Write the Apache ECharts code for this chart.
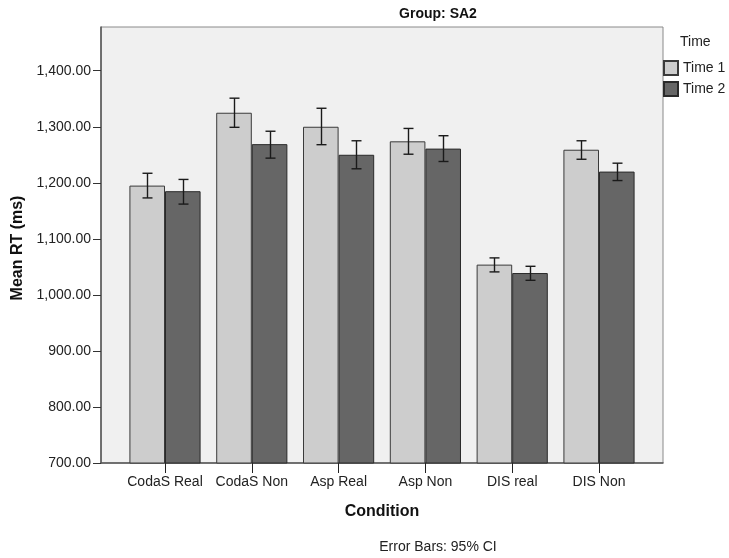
<!DOCTYPE html>
<html>
<head>
<meta charset="utf-8">
<title>Mean RT by Condition — Group: SA2</title>
<script src="https://cdn.jsdelivr.net/npm/echarts@6/dist/echarts.min.js"></script>
<style>
  html, body { margin: 0; padding: 0; background: #ffffff; }
  #chart { width: 729px; height: 558px; }
</style>
</head>
<body>
<div id="chart"></div>
<script>
// Conditions on the x axis
const categories = ['CodaS Real', 'CodaS Non', 'Asp Real', 'Asp Non', 'DIS real', 'DIS Non'];

// Mean RT (ms) per condition for each session
const time1Mean = [1195, 1325, 1300, 1274, 1054, 1259];
const time2Mean = [1185, 1269, 1250, 1261, 1039, 1220];

// 95% confidence interval bounds
const time1Low  = [1173, 1299, 1268, 1251, 1041, 1242];
const time1High = [1217, 1351, 1333, 1297, 1066, 1275];
const time2Low  = [1162, 1244, 1225, 1238, 1026, 1204];
const time2High = [1206, 1292, 1275, 1284, 1051, 1235];

// Y axis tick values
const yTicks = [700, 800, 900, 1000, 1100, 1200, 1300, 1400];

const FONT = 'Liberation Sans, Arial, sans-serif';
const Y_MIN = 700, Y_MAX = 1478;
const CAT_GAP = 0.18;

function fmt(v) {
  const parts = v.toFixed(2).split('.');
  parts[0] = parts[0].replace(/\B(?=(\d{3})+(?!\d))/g, ',');
  return parts.join('.');
}

// Error bar renderer; side = -1 (left bar) or +1 (right bar)
function errorBar(side) {
  return function (params, api) {
    const idx = api.value(0);
    const lo = api.coord([idx, api.value(1)]);
    const hi = api.coord([idx, api.value(2)]);
    const band = api.size([1, 0])[0];
    const dx = side * band * (1 - CAT_GAP) / 4;
    const x = Math.round(lo[0] + dx) + 0.5;
    const cap = 5;
    const style = { stroke: '#1a1a1a', lineWidth: 1.4 };
    return {
      type: 'group',
      children: [
        { type: 'line', shape: { x1: x, y1: hi[1], x2: x, y2: lo[1] }, style: style },
        { type: 'line', shape: { x1: x - cap, y1: hi[1], x2: x + cap, y2: hi[1] }, style: style },
        { type: 'line', shape: { x1: x - cap, y1: lo[1], x2: x + cap, y2: lo[1] }, style: style }
      ]
    };
  };
}

const chart = echarts.init(document.getElementById('chart'), null, { renderer: 'canvas' });

chart.setOption({
  animation: false,
  backgroundColor: '#ffffff',
  textStyle: { fontFamily: FONT },
  grid: [
    // plot frame
    { left: 101, right: 66, top: 27, bottom: 95, show: true,
      backgroundColor: '#f0f0f0', borderColor: '#8a8a8a', borderWidth: 1 },
    // bar region, inset from the frame
    { left: 121.6, right: 86.6, top: 27, bottom: 95 }
  ],
  xAxis: [
    { gridIndex: 0, type: 'value', min: 0, max: 1,
      axisLine: { show: true, lineStyle: { color: '#555', width: 1.5 } },
      axisTick: { show: false }, axisLabel: { show: false }, splitLine: { show: false } },
    { gridIndex: 1, type: 'category', data: categories,
      axisLine: { show: false },
      axisTick: { show: true, alignWithLabel: true, interval: 0, length: 10,
                  lineStyle: { color: '#222', width: 1 } },
      axisLabel: { interval: 0, color: '#222', fontSize: 14, fontFamily: FONT, margin: 12 } }
  ],
  yAxis: [
    { gridIndex: 0, type: 'value', min: Y_MIN, max: Y_MAX, interval: 100,
      axisLine: { show: true, lineStyle: { color: '#555', width: 1.5 } },
      axisTick: { show: true, length: 8, customValues: yTicks, lineStyle: { color: '#333' } },
      axisLabel: { show: true, customValues: yTicks, formatter: fmt, color: '#222',
                   fontSize: 14, fontFamily: FONT, margin: 10 },
      splitLine: { show: false } },
    { gridIndex: 1, type: 'value', min: Y_MIN, max: Y_MAX, interval: 100, show: false,
      splitLine: { show: false } }
  ],
  legend: {
    data: ['Time 1', 'Time 2'],
    orient: 'vertical', left: 663, top: 60, padding: 0,
    itemWidth: 14, itemHeight: 14, itemGap: 5,
    icon: 'rect',
    textStyle: { fontSize: 14, color: '#222', fontFamily: FONT }
  },
  graphic: [
    { type: 'text', x: 438, y: 14, style: { text: 'Group: SA2', font: 'bold 14px ' + FONT,
      fill: '#111', textAlign: 'center', textVerticalAlign: 'middle' } },
    { type: 'text', x: 680, y: 42, style: { text: 'Time', font: '14px ' + FONT,
      fill: '#222', textAlign: 'left', textVerticalAlign: 'middle' } },
    { type: 'text', x: 18, y: 248, rotation: Math.PI / 2, style: { text: 'Mean RT (ms)',
      font: 'bold 16px ' + FONT, fill: '#111', textAlign: 'center', textVerticalAlign: 'middle' } },
    { type: 'text', x: 382, y: 512, style: { text: 'Condition', font: 'bold 16px ' + FONT,
      fill: '#111', textAlign: 'center', textVerticalAlign: 'middle' } },
    { type: 'text', x: 438, y: 547, style: { text: 'Error Bars: 95% CI', font: '14px ' + FONT,
      fill: '#222', textAlign: 'center', textVerticalAlign: 'middle' } }
  ],
  series: [
    { name: 'Time 1', type: 'bar', xAxisIndex: 1, yAxisIndex: 1, data: time1Mean,
      barGap: '0%', barCategoryGap: '18%',
      itemStyle: { color: '#cdcdcd', borderColor: '#3a3a3a', borderWidth: 1 } },
    { name: 'Time 2', type: 'bar', xAxisIndex: 1, yAxisIndex: 1, data: time2Mean,
      barGap: '0%', barCategoryGap: '18%',
      itemStyle: { color: '#666666', borderColor: '#2a2a2a', borderWidth: 1 } },
    { name: 'Time 1 CI', type: 'custom', xAxisIndex: 1, yAxisIndex: 1, z: 5,
      renderItem: errorBar(-1),
      data: categories.map((c, i) => [i, time1Low[i], time1High[i]]) },
    { name: 'Time 2 CI', type: 'custom', xAxisIndex: 1, yAxisIndex: 1, z: 5,
      renderItem: errorBar(1),
      data: categories.map((c, i) => [i, time2Low[i], time2High[i]]) }
  ]
});
</script>
</body>
</html>
